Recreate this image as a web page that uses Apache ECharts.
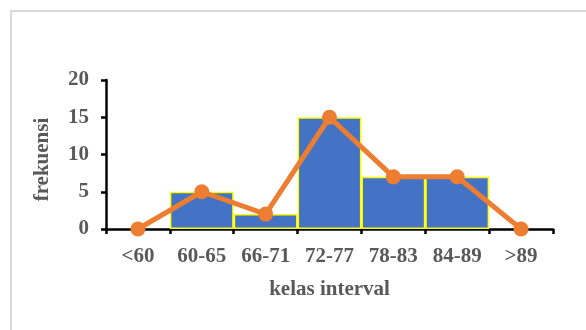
<!DOCTYPE html>
<html>
<head>
<meta charset="utf-8">
<script src="https://cdn.jsdelivr.net/npm/echarts@6/dist/echarts.min.js"></script>
<style>html,body{margin:0;padding:0;background:#fff}#c{width:586px;height:330px}</style>
</head>
<body>
<div id="c"></div>
<script>
const categories = ['<60', '60-65', '66-71', '72-77', '78-83', '84-89', '>89'];
const barValues = [0, 5, 2, 15, 7, 7, 0];
const lineValues = [0, 5, 2, 15, 7, 7, 0];
const yTicks = [0, 5, 10, 15, 20];

const font = '"Liberation Serif", "Times New Roman", serif';
const textColor = '#595959';
const chart = echarts.init(document.getElementById('c'), null, {renderer: 'canvas'});
chart.setOption({
  animation: false,
  backgroundColor: '#fff',
  graphic: [{
    type: 'rect',
    shape: {x: 11, y: 11, width: 620, height: 360},
    style: {fill: 'none', stroke: '#d9d9d9', lineWidth: 2},
    silent: true
  }],
  grid: {left: 106, right: 33, top: 80, bottom: 101},
  xAxis: {
    type: 'category',
    data: categories,
    boundaryGap: true,
    name: 'kelas interval',
    nameLocation: 'middle',
    nameGap: 50,
    nameTextStyle: {fontFamily: font, fontWeight: 'bold', fontSize: 21, color: textColor},
    axisLine: {lineStyle: {color: '#000', width: 2.5}},
    axisTick: {show: true, length: 5, lineStyle: {color: '#000', width: 2.5}},
    axisLabel: {fontFamily: font, fontWeight: 'bold', fontSize: 21, color: textColor, margin: 17, interval: 0}
  },
  yAxis: {
    type: 'value',
    min: yTicks[0],
    max: yTicks[yTicks.length - 1],
    interval: 5,
    name: 'frekuensi',
    nameLocation: 'middle',
    nameGap: 53,
    nameRotate: 90,
    nameTextStyle: {fontFamily: font, fontWeight: 'bold', fontSize: 21, color: textColor, padding: [0, 10, 0, 0]},
    axisLine: {show: true, lineStyle: {color: '#000', width: 2.5}},
    axisTick: {show: true, length: 5, lineStyle: {color: '#000', width: 2.5}},
    splitLine: {show: false},
    axisLabel: {fontFamily: font, fontWeight: 'bold', fontSize: 21, color: textColor, margin: 17}
  },
  series: [{
    type: 'bar',
    data: barValues.map(v => (v === 0 ? '-' : v)),
    barCategoryGap: '0%',
    itemStyle: {color: '#4472C4', borderColor: '#FFFF00', borderWidth: 1.5},
    z: 2
  }, {
    type: 'line',
    data: lineValues,
    symbol: 'circle',
    symbolSize: 15,
    lineStyle: {color: '#ED7D31', width: 5},
    itemStyle: {color: '#ED7D31'},
    z: 5
  }]
});
</script>
</body>
</html>
